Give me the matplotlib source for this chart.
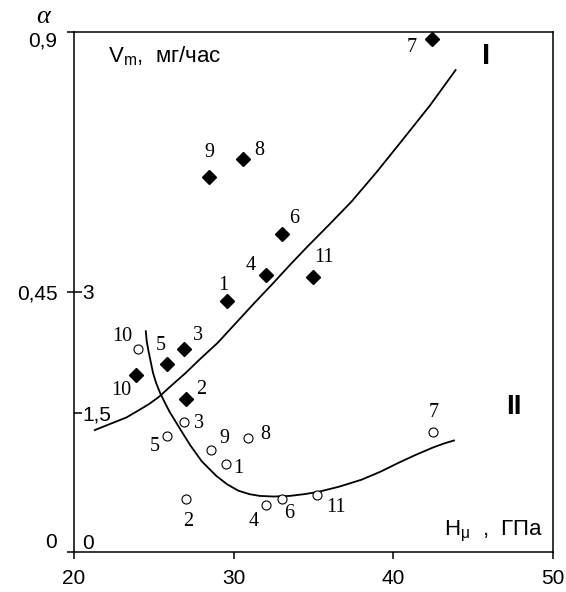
import matplotlib
matplotlib.use('Agg')
import matplotlib.pyplot as plt
import numpy as np

# series I (filled diamonds): sample number, H_mu (GPa), alpha
ids_I = ['7', '9', '8', '6', '4', '11', '1', '3', '5', '10', '2']
h_I = [42.4, 28.45, 30.6, 33.0, 32.0, 35.0, 29.6, 26.9, 25.8, 23.9, 27.0]
a_I = [0.888, 0.649, 0.680, 0.550, 0.479, 0.476, 0.434, 0.351, 0.325, 0.306, 0.265]

# series II (open circles)
ids_II = ['10', '3', '5', '9', '8', '1', '2', '4', '6', '11', '7']
h_II = [24.0, 26.9, 25.8, 28.6, 30.9, 29.5, 27.0, 32.0, 33.0, 35.2, 42.5]
a_II = [0.351, 0.225, 0.201, 0.177, 0.198, 0.152, 0.091, 0.082, 0.091, 0.099, 0.208]

# fitted curves
curve_I_h = [21.3, 22.3, 23.3, 24.1, 24.7, 25.3, 26.1, 27.0, 27.9, 29.0,
             30.2, 31.3, 32.4, 33.5, 34.6, 36.0, 37.4, 39.0, 40.6, 42.3, 43.9]
curve_I_a = [0.211, 0.222, 0.233, 0.246, 0.256, 0.268, 0.288, 0.310, 0.334, 0.362,
             0.398, 0.431, 0.463, 0.496, 0.528, 0.567, 0.607, 0.659, 0.714, 0.773, 0.834]
curve_II_h = [24.5, 24.55, 24.65, 24.8, 24.95, 25.15, 25.4, 25.7, 26.0, 26.4,
              26.8, 27.3, 28.0, 28.9, 29.6, 30.3, 31.0, 31.65, 32.5, 33.5,
              34.4, 35.3, 36.6, 38.0, 39.2, 40.3, 41.4, 42.5, 43.2, 43.8]
curve_II_a = [0.382, 0.366, 0.350, 0.330, 0.310, 0.292, 0.275, 0.258, 0.242, 0.224,
              0.206, 0.184, 0.157, 0.132, 0.117, 0.106, 0.100, 0.097, 0.096, 0.097,
              0.100, 0.104, 0.113, 0.125, 0.139, 0.154, 0.168, 0.181, 0.188, 0.193]

x_ticks = [20, 30, 40, 50]
alpha_ticks = [0, 0.45, 0.9]
alpha_labels = ['0', '0,45', '0,9']
vm_ticks = [0, 1.5, 3]
vm_labels = ['0', '1,5', '3']

# label offsets in pixels (layout only)
off_I = {'7': (-20, -9), '9': (0, 24), '8': (16, 9), '6': (13, 16), '4': (-15, 10),
         '11': (10, 19), '1': (-4, 16), '3': (14, 14), '5': (-6, 19),
         '10': (-15, -15), '2': (15, 9)}
off_II = {'10': (-16, 13), '3': (15, -2), '5': (-12, -11), '9': (13, 11),
          '8': (17, 3), '1': (13, -4), '2': (2, -22), '4': (-12, -17),
          '6': (8, -14), '11': (19, -13), '7': (0, 19)}

sans = 'Liberation Sans'
serif = 'Liberation Serif'
plt.rcParams['font.family'] = [sans, 'DejaVu Sans']
plt.rcParams['mathtext.fontset'] = 'custom'
plt.rcParams['mathtext.rm'] = sans
plt.rcParams['mathtext.it'] = serif + ':italic'

fig = plt.figure(figsize=(5.66, 5.92), dpi=100)
ax = fig.add_axes([0.1307, 0.0676, 0.8463, 0.8784])

ax.plot(curve_I_h, curve_I_a, color='black', lw=1.3)
ax.plot(curve_II_h, curve_II_a, color='black', lw=1.3)
ax.plot(h_I, a_I, 'D', color='black', markersize=7.5, linestyle='none', clip_on=False)
ax.plot(h_II, a_II, 'o', markerfacecolor='white', markeredgecolor='black',
        markersize=6.5, markeredgewidth=0.8, linestyle='none')

for name, x, y in zip(ids_I, h_I, a_I):
    ax.annotate(name, (x, y), xytext=off_I[name], textcoords='offset pixels',
                ha='center', va='center', fontsize=14.5, family=serif)
for name, x, y in zip(ids_II, h_II, a_II):
    ax.annotate(name, (x, y), xytext=off_II[name], textcoords='offset pixels',
                ha='center', va='center', fontsize=14.5, family=serif)

ax.set_xlim(20, 50)
ax.set_ylim(0, 0.9)
ax.set_xticks(x_ticks)
ax.set_xticklabels([str(t) for t in x_ticks])
ax.set_yticks(alpha_ticks)
ax.set_yticklabels(alpha_labels)
ax.tick_params(direction='out', length=5, width=1.1, labelsize=15, pad=7)
for spine in ax.spines.values():
    spine.set_linewidth(1.1)
ylab = ax.get_yticklabels()
ylab[0].set_va('bottom')
ylab[-1].set_va('top')

# inner V_m scale on the left spine
a0 = 0.0313
k = 3 / (0.45 - a0)
sec = ax.secondary_yaxis('left', functions=(lambda a: (a - a0) * k,
                                            lambda v: v / k + a0))
sec.set_yticks(vm_ticks)
sec.set_yticklabels(vm_labels)
sec.tick_params(direction='in', length=6, width=1.1, labelsize=15, pad=-6)
sec.spines['left'].set_visible(False)
for lab in sec.get_yticklabels():
    lab.set_ha('left')
sec.get_yticklabels()[0].set_va('top')
sec.yaxis.get_major_ticks()[0].tick1line.set_visible(False)

ax.text(0.072, 0.977, r'V$_\mathregular{m}$,  мг/час', transform=ax.transAxes,
        fontsize=16, ha='left', va='top')
ax.text(0.98, 0.04, r'H$_\mathregular{\mu}$  ,  ГПа', transform=ax.transAxes,
        fontsize=16, ha='right', va='center')
ax.text(0.86, 0.953, 'I', transform=ax.transAxes, fontsize=21,
        fontweight='bold', ha='center', va='center')
ax.text(0.918, 0.278, 'II', transform=ax.transAxes, fontsize=20,
        fontweight='bold', ha='center', va='center')
fig.text(43 / 566, 1 - 17 / 592, 'α', fontsize=19, family=serif,
         style='italic', ha='center', va='center')

fig.savefig('out.png', dpi=100)
